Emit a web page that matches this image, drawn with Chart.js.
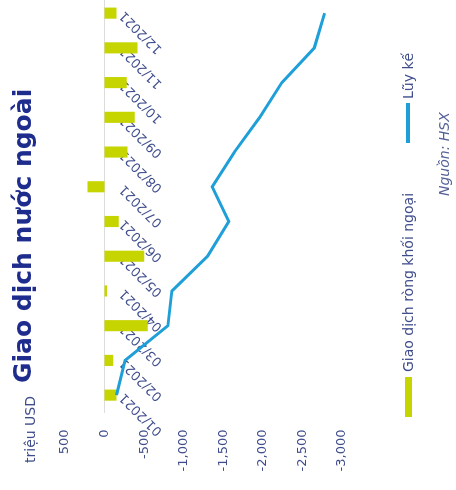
<!doctype html>
<html lang="vi">
<head>
  <meta charset="UTF-8">
  <title>Giao dịch nước ngoài</title>
  <style>
    html, body { margin: 0; padding: 0; background: #fff; overflow: hidden; }
    body { width: 456px; height: 490px; position: relative; font-family: "DejaVu Sans", sans-serif; }
    /* chart is laid out upright (500x456) then turned a quarter to the left */
    #wrap {
      position: absolute; left: 0; top: 0; width: 500px; height: 456px;
      transform-origin: 0 0; transform: translateY(490px) rotate(-90deg);
    }
    #datavis { position: absolute; left: 0; top: 0; }
    .txt { position: absolute; white-space: nowrap; color: #3f4d8c; }
    #title { left: 107px; top: 8px; font-size: 25px; font-weight: bold; color: #1e2c8e; }
    #unit { left: 27px; top: 22px; font-size: 14px; }
    .key { position: absolute; }
    #src { left: 294px; top: 436px; font-size: 14px; font-style: italic; color: #56639a; }
  </style>
</head>
<body>
  <div id="wrap">
    <canvas id="datavis" width="500" height="456"></canvas>
    <div class="txt" id="title">Giao dịch nước ngoài</div>
    <div class="txt" id="unit">triệu USD</div>
    <div class="key" style="left:73px;top:405px;width:40px;height:7px;background:#c6d400"></div>
    <div class="txt" style="left:118px;top:400px;font-size:14px">Giao dịch ròng khối ngoại</div>
    <div class="key" style="left:347px;top:406px;width:40px;height:4px;background:#1e9fd8"></div>
    <div class="txt" style="left:391px;top:400px;font-size:14px">Lũy kế</div>
    <div class="txt" id="src">Nguồn: HSX</div>
  </div>

  <script src="https://cdn.jsdelivr.net/npm/chart.js@4.4.1/dist/chart.umd.min.js"></script>
  <script>
    const months = ['01/2021', '02/2021', '03/2021', '04/2021', '05/2021', '06/2021',
      '07/2021', '08/2021', '09/2021', '10/2021', '11/2021', '12/2021'];
    const netFlow = [-150, -110, -545, -30, -500, -180, 215, -290, -380, -280, -415, -150];
    const cumulative = [-150, -260, -800, -850, -1300, -1570, -1360, -1640, -1960, -2240, -2650, -2780];
    const yMin = -3000;
    const yMax = 500;
    const yStep = 500;

    const textColor = '#3f4d8c';
    const font = { family: '"DejaVu Sans", sans-serif', size: 13 };

    new Chart('datavis', {
      type: 'bar',
      data: {
        labels: months,
        datasets: [
          {
            type: 'line',
            label: 'Lũy kế',
            data: cumulative,
            borderColor: '#1e9fd8',
            borderWidth: 3,
            pointRadius: 0,
            tension: 0,
            order: 0
          },
          {
            label: 'Giao dịch ròng khối ngoại',
            data: netFlow,
            backgroundColor: '#c6d400',
            barPercentage: 0.32,
            categoryPercentage: 1,
            order: 1
          }
        ]
      },
      options: {
        responsive: false,
        animation: false,
        devicePixelRatio: 1,
        layout: { padding: { left: 0, top: 65, right: 2.5, bottom: 114 } },
        plugins: { legend: { display: false }, tooltip: { enabled: false } },
        scales: {
          x: {
            position: { y: 0 },
            offset: true,
            grid: { display: false, drawTicks: false, tickLength: 0 },
            border: { display: true, color: '#dcdcdc', dash: [2, 2], width: 1 },
            ticks: { minRotation: 45, maxRotation: 45, padding: 12, color: textColor, font: font, autoSkip: false },
            afterFit: function (s) { s.height = 0; }
          },
          y: {
            min: yMin,
            max: yMax,
            grid: { display: false, drawTicks: false, tickLength: 0 },
            border: { display: false },
            ticks: {
              stepSize: yStep,
              padding: 17,
              color: textColor,
              font: font,
              callback: v => v.toLocaleString('en-US')
            },
            afterFit: function (s) { s.width = 77.5; }
          }
        }
      }
    });
  </script>
</body>
</html>
